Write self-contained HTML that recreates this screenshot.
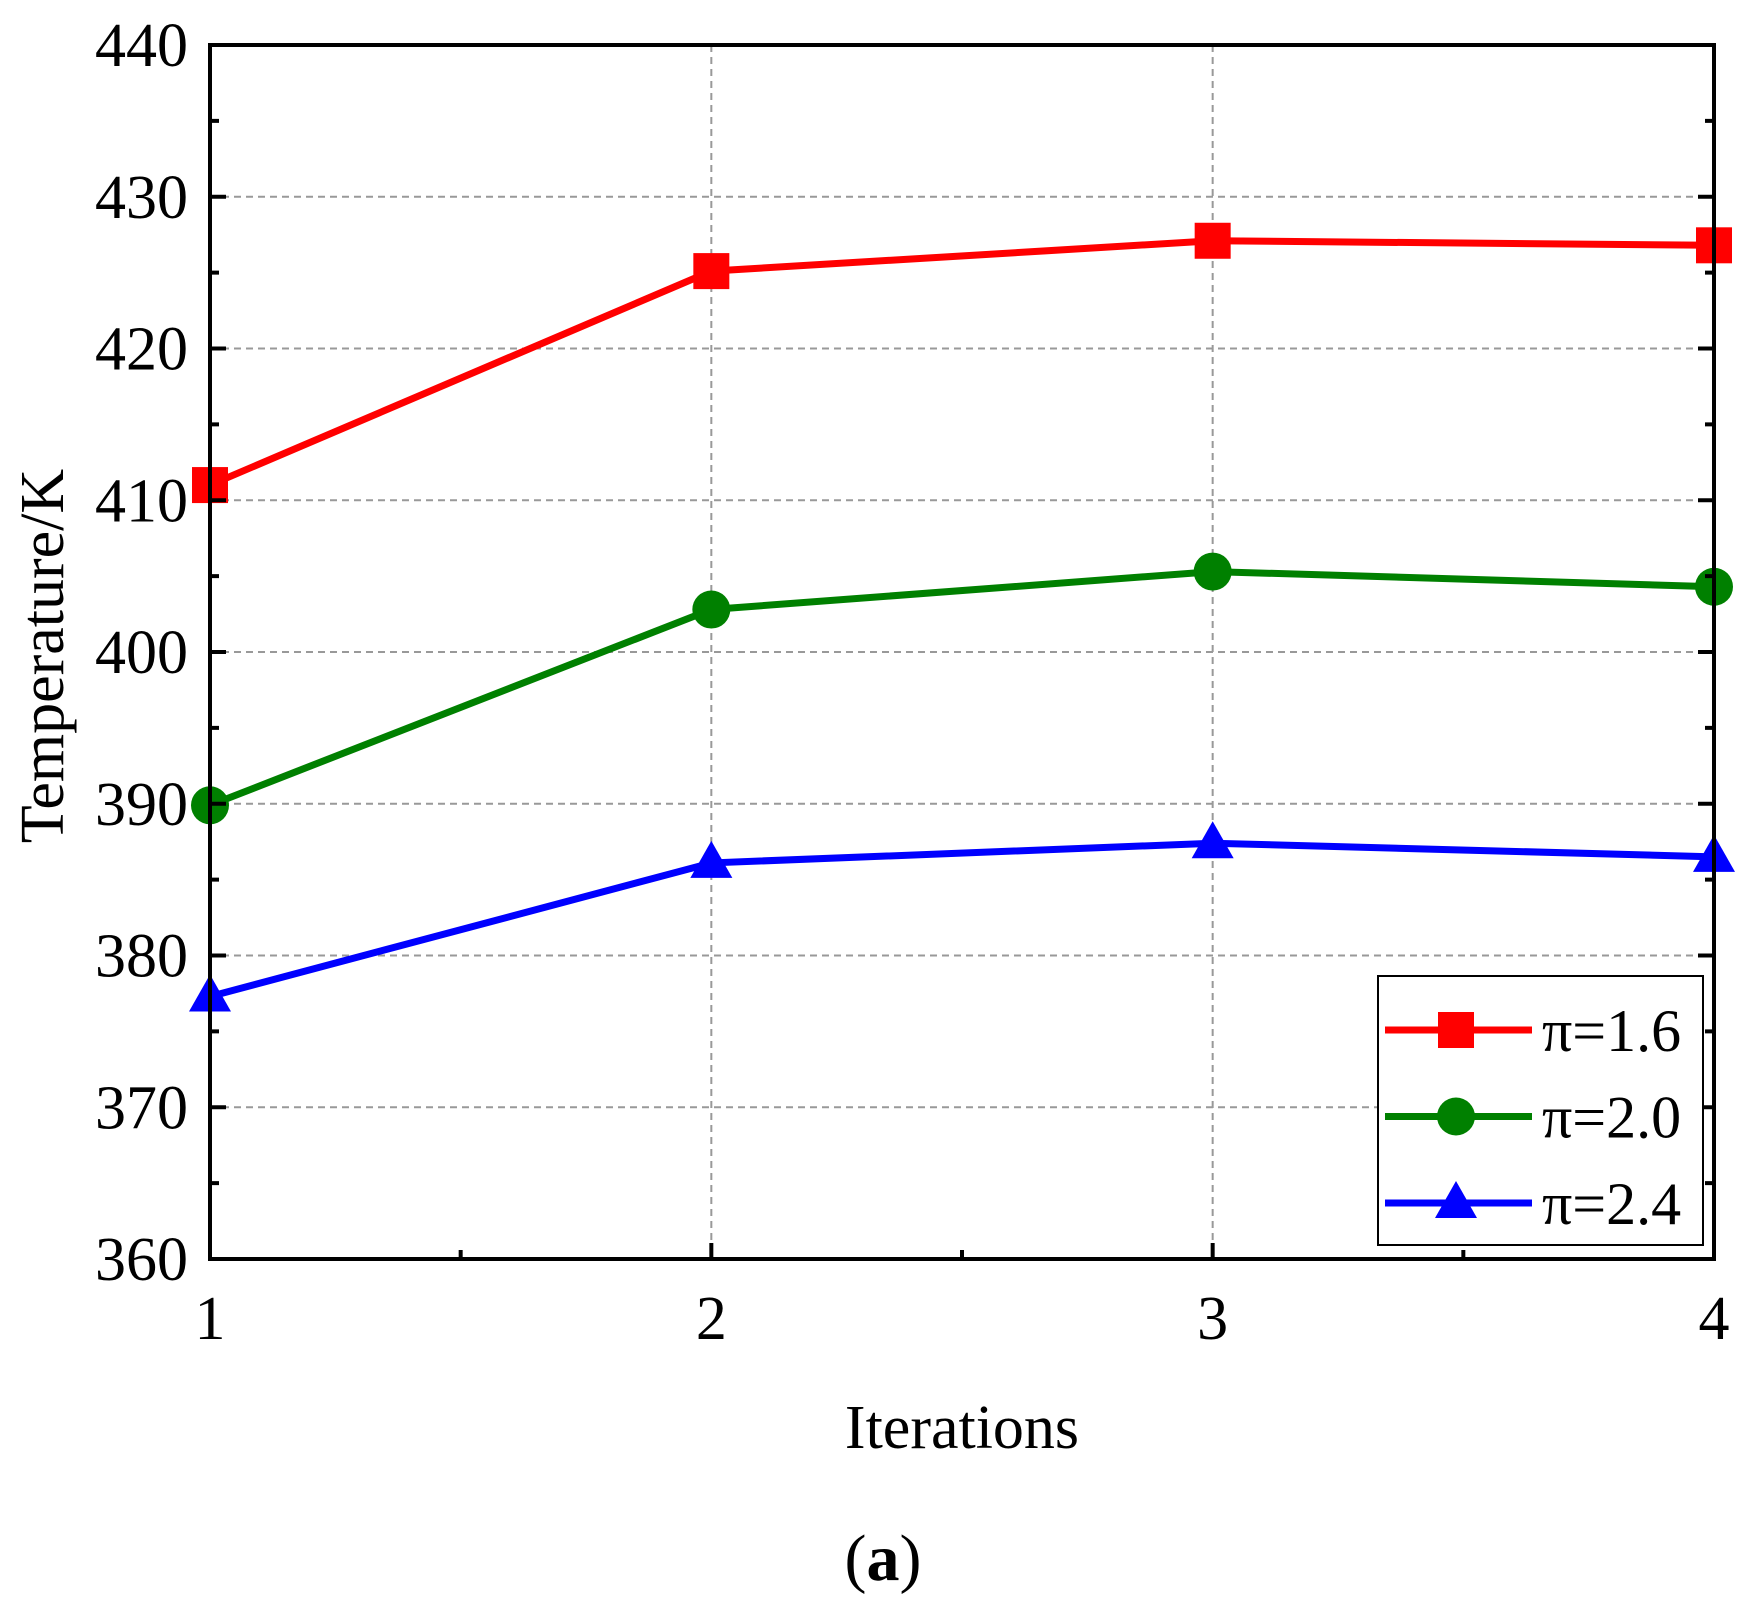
<!DOCTYPE html>
<html><head><meta charset="utf-8"><style>
html,body{margin:0;padding:0;background:#fff;}
svg text{font-family:"Liberation Serif",serif;fill:#000;}
</style></head><body>
<svg id="chart" width="1750" height="1616" xmlns="http://www.w3.org/2000/svg">
<g id="grid"></g>
<g id="series"></g>
<g id="axes"></g>
<text x="962" y="1448" font-size="62" text-anchor="middle">Iterations</text>
<text transform="translate(63,656) rotate(-90)" font-size="62" text-anchor="middle">Temperature/K</text>
<text x="883" y="1580" font-size="66" text-anchor="middle">(<tspan font-weight="bold">a</tspan>)</text>
<g id="legend"></g>
</svg>
<script>
const categories = [1, 2, 3, 4];
const seriesNames = ["π=1.6", "π=2.0", "π=2.4"];
const red16 = [411.0, 425.1, 427.1, 426.8];
const green20 = [389.9, 402.8, 405.3, 404.3];
const blue24 = [377.3, 386.1, 387.4, 386.5];
const yTicks = [360, 370, 380, 390, 400, 410, 420, 430, 440];
const xTicks = [1, 2, 3, 4];

const X0=210, X1=1714, Y0=1259, Y1=45;
const xs = v => X0 + (v-1)/(4-1)*(X1-X0);
const ys = v => Y0 - (v-360)/(440-360)*(Y0-Y1);
const NS="http://www.w3.org/2000/svg";
function mk(parent, tag, attrs){const e=document.createElementNS(NS,tag);for(const k in attrs)e.setAttribute(k,attrs[k]);parent.appendChild(e);return e;}
const grid=document.getElementById('grid'), axes=document.getElementById('axes'), ser=document.getElementById('series'), leg=document.getElementById('legend');

yTicks.forEach(t=>{
  if(t>360&&t<440){const l=mk(grid,'line',{x1:X0,x2:X1,y1:ys(t),y2:ys(t),stroke:'#999','stroke-width':2,'stroke-dasharray':'7 5'});
  
  }
  const tk=mk(axes,'line',{x1:X0,x2:X0+16,y1:ys(t),y2:ys(t),stroke:'#000','stroke-width':4});
  
  
  const tr=mk(axes,'line',{x1:X1-16,x2:X1,y1:ys(t),y2:ys(t),stroke:'#000','stroke-width':4});
  
  
  const lb=mk(axes,'text',{x:X0-22,y:ys(t)+21,'font-size':62,'text-anchor':'end'});
  lb.textContent=t;
  
  
  if(t<440){const m=ys(t+5);
    const a=mk(axes,'line',{x1:X0,x2:X0+9,y1:m,y2:m,stroke:'#000','stroke-width':4});
    
    
    const b=mk(axes,'line',{x1:X1-9,x2:X1,y1:m,y2:m,stroke:'#000','stroke-width':4});
    
    }
});
xTicks.forEach(t=>{
  if(t>1&&t<4){const l=mk(grid,'line',{x1:xs(t),x2:xs(t),y1:Y1,y2:Y0,stroke:'#999','stroke-width':2,'stroke-dasharray':'7 5'});
  
  }
  const tk=mk(axes,'line',{x1:xs(t),x2:xs(t),y1:Y0,y2:Y0-16,stroke:'#000','stroke-width':4});
  
  
  const lb=mk(axes,'text',{x:xs(t),y:Y0+80,'font-size':62,'text-anchor':'middle'});
  lb.textContent=t;
  
  
  if(t<4){const m=xs(t+0.5);
    const a=mk(axes,'line',{x1:m,x2:m,y1:Y0,y2:Y0-9,stroke:'#000','stroke-width':4});
    
    }
});
const frame=mk(axes,'rect',{x:X0,y:Y1,width:X1-X0,height:Y0-Y1,fill:'none',stroke:'#000','stroke-width':4});



function marker(g,shape,x,y,color){
  let e;
  if(shape==='square') e=mk(g,'rect',{x:x-18,y:y-18,width:36,height:36,fill:color});
  else if(shape==='circle') e=mk(g,'circle',{cx:x,cy:y,r:19,fill:color});
  else e=mk(g,'polygon',{points:`${x},${y-22} ${x-21},${y+15} ${x+21},${y+15}`,fill:color});
  return e;
}
const defs=[[red16,'#ff0000','square'],[green20,'#008000','circle'],[blue24,'#0000ff','triangle']];
defs.forEach(([vals,color,shape],i)=>{
  const g=mk(ser,'g',{});
  
  
  const pl=mk(g,'polyline',{points:vals.map((v,j)=>xs(categories[j])+','+ys(v)).join(' '),fill:'none',stroke:color,'stroke-width':7});
  
  
  vals.forEach((v,j)=>{const m=marker(g,shape,xs(categories[j]),ys(v),color);
    
    });
  const ly=1030+i*86.5;
  const le=mk(leg,'g',{});
  
  
  mk(le,'line',{x1:1385,x2:1532,y1:ly,y2:ly,stroke:color,'stroke-width':7});
  marker(le,shape,1456,ly,color);
  const t=mk(le,'text',{x:1542,y:ly+21,'font-size':60});
  t.textContent=seriesNames[i];
});
const lbox=mk(leg,'rect',{x:1378,y:976,width:325,height:269,fill:'none',stroke:'#000','stroke-width':2});


leg.insertBefore(mk(leg,'rect',{x:1378,y:976,width:325,height:269,fill:'#fff'}),leg.firstChild);
</script>
</body></html>
